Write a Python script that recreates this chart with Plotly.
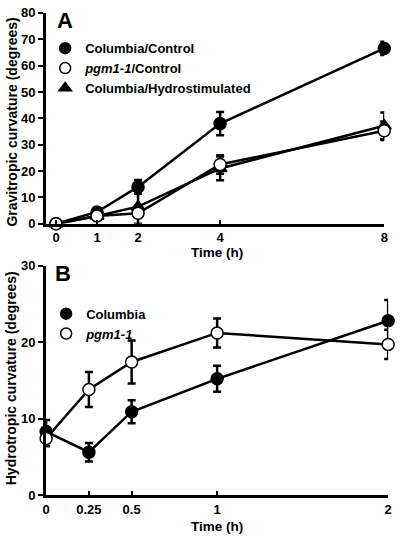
import plotly.graph_objects as go

# ---------- Panel A data ----------
time_a = [0, 1, 2, 4, 8]
col_ctrl = [0, 4.5, 14, 38, 66.5]
col_ctrl_err = [0, 1.0, 2.6, 4.4, 2.5]
pgm_ctrl = [0, 3, 4, 22.5, 35.3]
pgm_ctrl_err = [0, 0.8, 1.0, 3.5, 3.5]
col_hydro = [0, 3, 6.5, 21, 37.2]
col_hydro_err = [0, 1.0, 6.5, 4.5, 5]
ticks_a_x = [0, 1, 2, 4, 8]
ticks_a_y = [0, 10, 20, 30, 40, 50, 60, 70, 80]

# ---------- Panel B data ----------
time_b = [0, 0.25, 0.5, 1, 2]
col_b = [8.3, 5.6, 10.9, 15.2, 22.8]
col_b_err = [1.5, 1.2, 1.5, 1.7, 2.7]
pgm_b = [7.4, 13.8, 17.4, 21.2, 19.7]
pgm_b_err = [1.0, 2.3, 2.8, 1.9, 1.9]
ticks_b_x = [0, 0.25, 0.5, 1, 2]
ticks_b_x_text = ["0", "0.25", "0.5", "1", "2"]
ticks_b_y = [0, 10, 20, 30]

FONT = "Liberation Sans"
W, H = 400, 541


def px_x(p):
    return p / W


def px_y(p):
    return 1 - p / H


fig = go.Figure()


def series(x, y, err, symbol, fill, xa, ya, name):
    fig.add_trace(go.Scatter(
        x=x, y=y, mode="lines+markers", name=name, showlegend=False,
        xaxis=xa, yaxis=ya, cliponaxis=False,
        line=dict(color="black", width=2.5),
        marker=dict(symbol=symbol, size=12, color=fill,
                    line=dict(color="black", width=1.5)),
        error_y=dict(type="data", array=err, visible=True, color="black",
                     thickness=2.5, width=4),
    ))


# Panel A traces
series(time_a, col_hydro, col_hydro_err, "triangle-up", "black", "x", "y", "Columbia/Hydrostimulated")
series(time_a, col_ctrl, col_ctrl_err, "circle", "black", "x", "y", "Columbia/Control")
series(time_a, pgm_ctrl, pgm_ctrl_err, "circle", "white", "x", "y", "pgm1-1/Control")

# Panel B traces
series(time_b, col_b, col_b_err, "circle", "black", "x2", "y2", "Columbia")
series(time_b, pgm_b, pgm_b_err, "circle", "white", "x2", "y2", "pgm1-1")


# Legend-only marker entries
def leg(name, symbol, fill, legend, xa, ya):
    fig.add_trace(go.Scatter(
        x=[None], y=[None], mode="markers", name=name, legend=legend,
        xaxis=xa, yaxis=ya,
        marker=dict(symbol=symbol, size=11, color=fill,
                    line=dict(color="black", width=1.5)),
    ))


leg("Columbia/Control", "circle", "black", "legend", "x", "y")
leg("<i>pgm1-1</i>/Control", "circle", "white", "legend", "x", "y")
leg("Columbia/Hydrostimulated", "triangle-up", "black", "legend", "x", "y")
leg("Columbia", "circle", "black", "legend2", "x2", "y2")
leg("<i>pgm1-1</i>", "circle", "white", "legend2", "x2", "y2")

tickfont = dict(family=FONT, size=13, color="black", weight=700)
legfont = dict(family=FONT, size=13, color="black", weight=700)

common_x = dict(showline=True, linecolor="black", linewidth=3, ticks="inside",
                ticklen=4, tickwidth=2, tickcolor="black", showgrid=False,
                zeroline=False, tickfont=tickfont, ticklabelstandoff=0)
common_y = dict(showline=True, linecolor="black", linewidth=3, ticks="outside",
                ticklen=5, tickwidth=2, tickcolor="black", showgrid=False,
                zeroline=False, tickfont=tickfont)

fig.update_layout(
    width=W, height=H, margin=dict(l=0, r=0, t=0, b=0),
    paper_bgcolor="white", plot_bgcolor="white",
    font=dict(family=FONT, color="black"),
    xaxis=dict(domain=[px_x(43), px_x(388)], range=[-0.24, 8],
               tickvals=ticks_a_x, anchor="y", **common_x),
    yaxis=dict(domain=[px_y(223), px_y(6)], range=[0, 80],
               tickvals=ticks_a_y, anchor="x", **common_y),
    xaxis2=dict(domain=[px_x(43), px_x(392)], range=[0, 2],
                tickvals=ticks_b_x, ticktext=ticks_b_x_text,
                anchor="y2", **common_x),
    yaxis2=dict(domain=[px_y(502), px_y(266)], range=[0, 30],
                tickvals=ticks_b_y, anchor="x2", **common_y),
    legend=dict(x=px_x(42), y=px_y(27), xanchor="left", yanchor="top",
                bgcolor="rgba(0,0,0,0)", font=legfont, tracegroupgap=0),
    legend2=dict(x=px_x(43), y=px_y(300), xanchor="left", yanchor="top",
                 bgcolor="rgba(0,0,0,0)", font=legfont, tracegroupgap=0),
)

ann_font = dict(family=FONT, size=14, color="black", weight=700)


def ann(text, x, y, font, angle=0):
    fig.add_annotation(text=text, textangle=angle, xref="paper", yref="paper",
                       x=px_x(x), y=px_y(y), xanchor="center", yanchor="middle",
                       showarrow=False, font=font)


ann("Gravitropic curvature (degrees)", 8, 118, ann_font, -90)
ann("Hydrotropic curvature (degrees)", 8, 382, ann_font, -90)
ann("Time (h)", 217, 252, dict(ann_font, size=13.5))
ann("Time (h)", 217, 534, dict(ann_font, size=13.5))
big = dict(family=FONT, size=22, color="black", weight=700)
ann("A", 62, 14, big)
ann("B", 60, 274, big)

fig.write_html(
    "out.html",
    config={"displayModeBar": False},
    post_script="document.documentElement.style.margin='0';"
                "document.body.style.margin='0';"
                "document.body.style.overflow='hidden';"
                "document.documentElement.style.overflow='hidden';",
)
